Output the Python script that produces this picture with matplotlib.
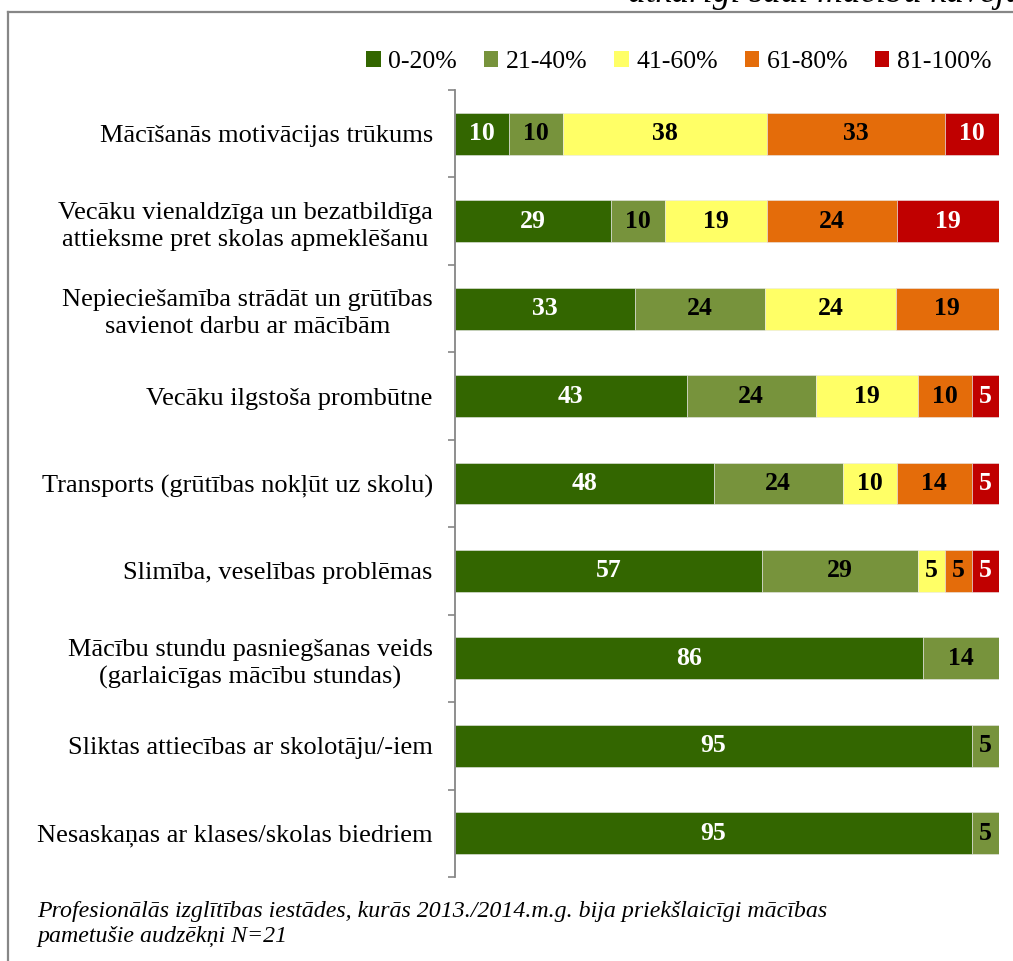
import numpy as np
import matplotlib.pyplot as plt
from matplotlib.patches import Patch
from matplotlib.lines import Line2D

plt.rcParams['font.family'] = ['Liberation Serif', 'DejaVu Serif']

categories = [
    "Mācīšanās motivācijas trūkums",
    "Vecāku vienaldzīga un bezatbildīga\nattieksme pret skolas apmeklēšanu",
    "Nepieciešamība strādāt un grūtības\nsavienot darbu ar mācībām",
    "Vecāku ilgstoša prombūtne",
    "Transports (grūtības nokļūt uz skolu)",
    "Slimība, veselības problēmas",
    "Mācību stundu pasniegšanas veids\n(garlaicīgas mācību stundas)",
    "Sliktas attiecības ar skolotāju/-iem",
    "Nesaskaņas ar klases/skolas biedriem",
]
series_names = ["0-20%", "21-40%", "41-60%", "61-80%", "81-100%"]
s_0_20 = [10, 29, 33, 43, 48, 57, 86, 95, 95]
s_21_40 = [10, 10, 24, 24, 24, 29, 14, 5, 5]
s_41_60 = [38, 19, 24, 19, 10, 5, 0, 0, 0]
s_61_80 = [33, 24, 19, 10, 14, 5, 0, 0, 0]
s_81_100 = [10, 19, 0, 5, 5, 5, 0, 0, 0]

colors = ["#336600", "#77933C", "#FFFF66", "#E46C0A", "#C00000"]
label_colors = ["white", "black", "black", "black", "white"]

data = np.array([s_0_20, s_21_40, s_41_60, s_61_80, s_81_100], dtype=float)
totals = data.sum(axis=0)
shares = data / totals * 100  # 100% stacked

fig = plt.figure(figsize=(10.13, 9.61), dpi=100)
ax = fig.add_axes([455 / 1013, 1 - 877 / 961, 544 / 1013, (877 - 90) / 961])

y = np.arange(len(categories))
left = np.zeros(len(categories))
for i, name in enumerate(series_names):
    ax.barh(y, shares[i], left=left, height=0.48, color=colors[i],
            edgecolor="#e8e8e8", linewidth=0.4, label=name)
    for j in range(len(categories)):
        if data[i, j] > 0:
            ax.text(left[j] + shares[i, j] / 2, y[j], f"{int(data[i, j])}",
                    ha="center", va="center", fontsize=18.5, fontweight="bold",
                    color=label_colors[i])
    left += shares[i]

ax.set_xlim(0, 100)
ax.set_ylim(len(categories) - 0.5, -0.5)
ax.set_yticks(y)
ax.set_yticklabels(categories, fontsize=19, multialignment="center",
                   linespacing=1.3)
ax.set_yticks(np.arange(len(categories) + 1) - 0.5, minor=True)
ax.tick_params(axis="y", which="major", length=0, pad=16)
ax.tick_params(axis="y", which="minor", length=5, color="#868686", width=1.2)
ax.set_xticks([])
for side in ["top", "right", "bottom"]:
    ax.spines[side].set_visible(False)
ax.spines["left"].set_color("#868686")
ax.spines["left"].set_linewidth(1.3)

handles = [Patch(facecolor=c, edgecolor="none") for c in colors]
fig.legend(handles, series_names, loc="center", ncol=5,
           bbox_to_anchor=(679 / 1013, 1 - 62 / 961), frameon=False,
           fontsize=18.5, handlelength=0.55, handleheight=0.55,
           handletextpad=0.3, columnspacing=1.05)

# chart frame (partly outside the picture)
fig.add_artist(Line2D([8 / 1013, 1.0], [1 - 12 / 961, 1 - 12 / 961],
                      transform=fig.transFigure, color="#878787", lw=1.6))
fig.add_artist(Line2D([8 / 1013, 8 / 1013], [0.0, 1 - 12 / 961],
                      transform=fig.transFigure, color="#878787", lw=1.6))

# cut-off title above the frame
fig.text(628 / 1013, 1 - 2 / 961, "atkarīgi šādi mācību kavējumi",
         fontsize=25.5, fontstyle="italic", ha="left", va="baseline")

fig.text(37 / 1013, 1 - 924 / 961,
         "Profesionālās izglītības iestādes, kurās 2013./2014.m.g. bija priekšlaicīgi mācības\npametušie audzēkņi N=21",
         fontsize=17.2, fontstyle="italic", ha="left", va="center",
         linespacing=1.25)

fig.savefig("out.png", dpi=100)
